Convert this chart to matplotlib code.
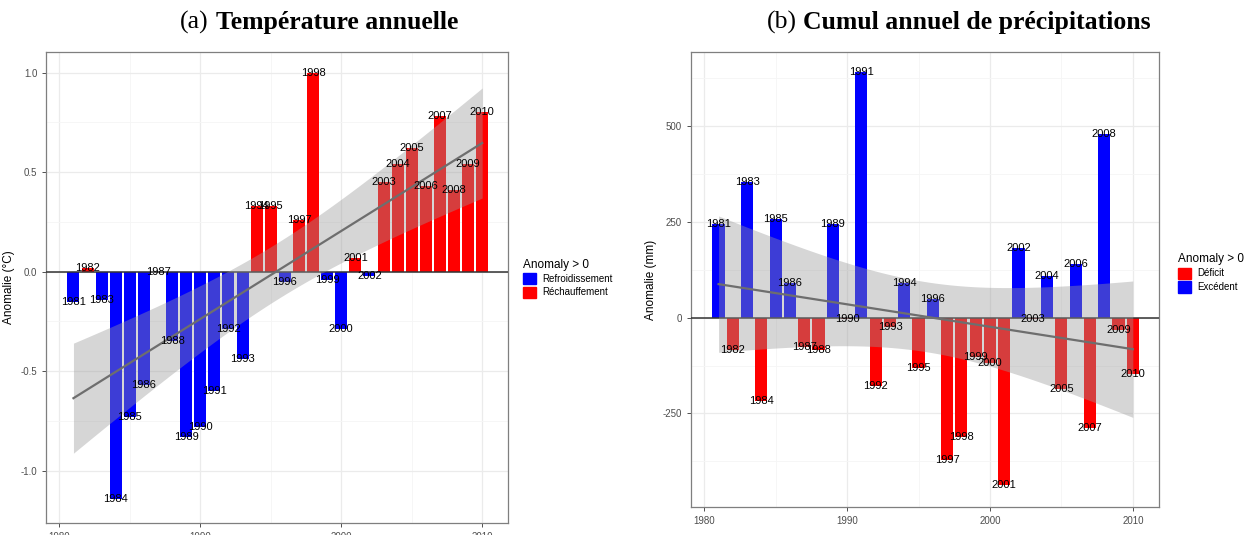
import numpy as np
import matplotlib
matplotlib.use("Agg")
import matplotlib.pyplot as plt
from matplotlib.patches import Patch

plt.rcParams['font.family'] = ['Liberation Sans', 'DejaVu Sans']

years = np.arange(1981, 2011)

# anomalies de température (°C)
temp = [-0.15, 0.02, -0.14, -1.14, -0.73, -0.57, 0.0, -0.35, -0.83, -0.78,
        -0.60, -0.29, -0.44, 0.33, 0.33, -0.05, 0.26, 1.00, -0.04, -0.29,
        0.07, -0.02, 0.45, 0.54, 0.62, 0.43, 0.78, 0.41, 0.54, 0.80]

# anomalies du cumul de précipitations (mm)
precip = [245, -85, 355, -218, 258, 90, -76, -85, 245, -4,
          642, -178, -24, 90, -130, 50, -372, -312, -102, -118,
          -437, 182, -4, 108, -186, 140, -287, 480, -32, -148]

temp_legend = ['Refroidissement', 'Réchauffement']
precip_legend = ['Déficit', 'Excédent']
T_975 = 2.0484  # quantile t, df = 28

BLUE, RED = '#0000FF', '#FF0000'


def lm_band(x, y):
    x = np.asarray(x, float)
    y = np.asarray(y, float)
    b, a = np.polyfit(x, y, 1)
    fit = a + b * x
    n = len(x)
    s = np.sqrt(np.sum((y - fit) ** 2) / (n - 2))
    xg = np.linspace(x.min(), x.max(), 80)
    yg = a + b * xg
    se = s * np.sqrt(1 / n + (xg - x.mean()) ** 2 / np.sum((x - x.mean()) ** 2))
    return xg, yg, yg - T_975 * se, yg + T_975 * se


def panel(ax, vals, pos_col, neg_col, ylabel, yticks, yminor, ylim, fmt):
    vals = np.asarray(vals, float)
    cols = [pos_col if v > 0 else neg_col for v in vals]
    ax.bar(years, vals, width=0.85, color=cols, zorder=2)
    ax.axhline(0, color='#333333', lw=1.1, zorder=3)
    xg, yg, lo, hi = lm_band(years, vals)
    ax.fill_between(xg, lo, hi, color='#999999', alpha=0.4, lw=0, zorder=4)
    ax.plot(xg, yg, color='#6e6e6e', lw=1.6, zorder=5)
    for yr, v in zip(years, vals):
        ax.text(yr, v, str(yr), ha='center', va='center', fontsize=8,
                color='black', zorder=6)
    ax.set_xlim(1979.07, 2011.85)
    ax.set_ylim(*ylim)
    ax.set_xticks([1980, 1990, 2000, 2010])
    ax.set_xticks([1985, 1995, 2005], minor=True)
    ax.set_yticks(yticks)
    ax.set_yticklabels([fmt(t) for t in yticks])
    ax.set_yticks(yminor, minor=True)
    ax.grid(True, which='major', color='#ebebeb', lw=0.9, zorder=0)
    ax.grid(True, which='minor', color='#f5f5f5', lw=0.6, zorder=0)
    ax.set_axisbelow(True)
    ax.tick_params(which='major', direction='out', length=3, width=0.6,
                   color='#333333', labelcolor='#4d4d4d', labelsize=7)
    ax.tick_params(which='minor', length=0)
    for sp in ax.spines.values():
        sp.set_color('#7f7f7f')
        sp.set_linewidth(0.9)
    ax.set_ylabel(ylabel, fontsize=8.5, labelpad=4)


fig = plt.figure(figsize=(12.5, 5.35), dpi=100)

ax1 = fig.add_axes([0.037, 0.0219, 0.3696, 0.8815])
panel(ax1, temp, RED, BLUE, 'Anomalie (°C)', [-1.0, -0.5, 0.0, 0.5, 1.0],
      [-0.75, -0.25, 0.25, 0.75], (-1.264, 1.105), lambda t: f'{t:.1f}')

ax2 = fig.add_axes([0.5528, 0.0518, 0.3746, 0.8516])
panel(ax2, precip, BLUE, RED, 'Anomalie (mm)', [-250, 0, 250, 500],
      [-375, -125, 125, 375, 625], (-495, 695), lambda t: f'{t:d}')

# légendes
leg_kw = dict(title='Anomaly > 0', loc='upper left', frameon=False, fontsize=7,
              title_fontsize=8.5, handlelength=1.4, handleheight=1.4,
              handletextpad=0.6, labelspacing=0.25, borderaxespad=0)
leg1 = fig.legend(handles=[Patch(color=BLUE), Patch(color=RED)], labels=temp_legend,
                  bbox_to_anchor=(0.415, 0.524), **leg_kw)
leg1._legend_box.align = 'left'
leg2 = fig.legend(handles=[Patch(color=RED), Patch(color=BLUE)], labels=precip_legend,
                  bbox_to_anchor=(0.939, 0.534), **leg_kw)
leg2._legend_box.align = 'left'

# titres
serif = ['Liberation Serif', 'DejaVu Serif']
fig.text(0.1672, 0.9458, '(a)', fontsize=18.5, family=serif, ha='right', va='baseline')
fig.text(0.1728, 0.9458, 'Température annuelle', fontsize=18.5, family=serif,
         weight='bold', ha='left', va='baseline')
fig.text(0.6376, 0.9458, '(b)', fontsize=18.5, family=serif, ha='right', va='baseline')
fig.text(0.6424, 0.9458, 'Cumul annuel de précipitations', fontsize=18.5, family=serif,
         weight='bold', ha='left', va='baseline')

fig.savefig('out.png', dpi=100)
